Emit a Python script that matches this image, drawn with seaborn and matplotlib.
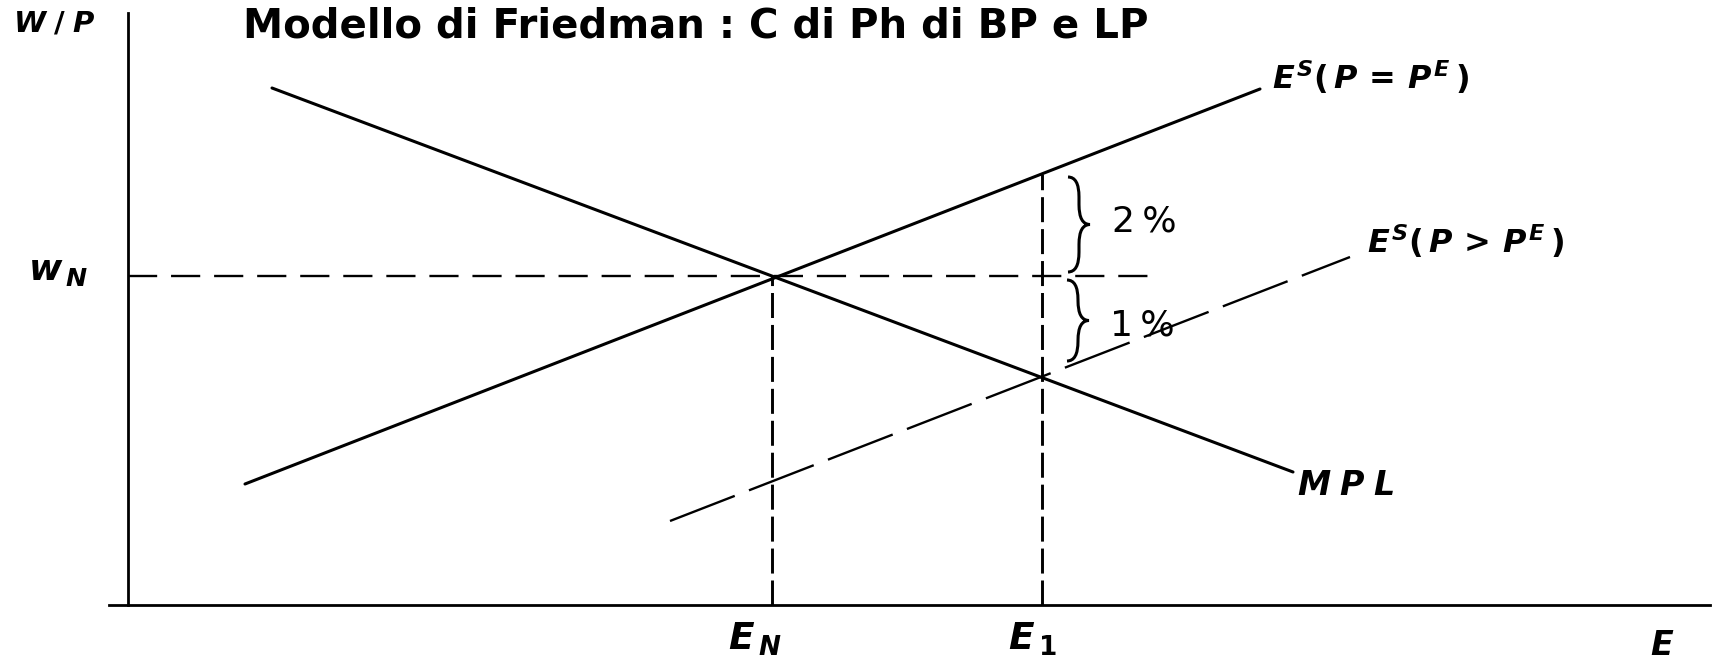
import numpy as np
import pandas as pd
import seaborn as sns
import matplotlib.pyplot as plt
from matplotlib.path import Path
from matplotlib.patches import PathPatch

# diagram values (units ~ pixels from the axes origin)
mpl_x = [144, 1165]
mpl_y = [517, 133]
es_x = [117, 1132]
es_y = [121, 516]
es2_x = [542, 1222]
es2_y = [84, 348]

e_n = 644      # natural employment
w_n = 329      # natural real wage
e_1 = 914      # employment after surprise
e1_y = 228     # MPL at E1
es_top = 431   # ES(P=PE) at E1
wage_end = 1020

title = "Modello di Friedman : C di Ph di BP e LP"


def brace(ax, x, ylo, yhi, w, lw=2.2):
    ym = (ylo + yhi) / 2
    h = w * 0.9
    verts = [(x, yhi), (x + w / 2, yhi), (x + w / 2, yhi - h),
             (x + w / 2, ym + h),
             (x + w / 2, ym), (x + w, ym),
             (x + w / 2, ym), (x + w / 2, ym - h),
             (x + w / 2, ylo + h),
             (x + w / 2, ylo), (x, ylo)]
    codes = [Path.MOVETO, Path.CURVE3, Path.CURVE3,
             Path.LINETO,
             Path.CURVE3, Path.CURVE3,
             Path.CURVE3, Path.CURVE3,
             Path.LINETO,
             Path.CURVE3, Path.CURVE3]
    ax.add_patch(PathPatch(Path(verts, codes), fill=False, lw=lw, color="black"))


sns.set_style("white")
plt.rcParams['lines.scale_dashes'] = False
plt.rcParams['text.color'] = 'black'
plt.rcParams['mathtext.fontset'] = 'custom'
plt.rcParams['mathtext.it'] = 'DejaVu Sans:italic:bold'
plt.rcParams['mathtext.rm'] = 'DejaVu Sans:bold'
plt.rcParams['mathtext.bf'] = 'DejaVu Sans:bold'

fig = plt.figure(figsize=(17.16, 6.59), dpi=100)
ax = fig.add_axes([109 / 1716, 54 / 659, 1601 / 1716, 592 / 659])
ax.set_xlim(-19, 1582)
ax.set_ylim(0, 592)

lw = 2.2
sns.lineplot(x=mpl_x, y=mpl_y, color="black", lw=lw, ax=ax)
sns.lineplot(x=es_x, y=es_y, color="black", lw=lw, ax=ax)
sns.lineplot(x=es2_x, y=es2_y, color="black", lw=1.7, ax=ax)
ax.lines[-1].set_dashes((50, 11))

ax.plot([0, wage_end], [w_n, w_n], color="black", lw=1.7, dashes=(21, 10))
ax.plot([e_n, e_n], [0, w_n], color="black", lw=2.1, dashes=(18, 5))
ax.plot([e_1, e_1], [0, es_top], color="black", lw=2.1, dashes=(18, 5))

brace(ax, e_1 + 26, w_n + 4, es_top - 3, 22)
brace(ax, e_1 + 25, e1_y + 16, w_n - 4, 22)

# labels
ax.text(1144, 516, r"$E^S(\,P\,=\,P^E\,)$", fontsize=23, va="baseline")
ax.text(1239, 352, r"$E^S(\,P\,>\,P^E\,)$", fontsize=23, va="baseline")
ax.text(984, 373, "2\u2009%", fontsize=26, va="baseline")
ax.text(982, 270, "1\u2009%", fontsize=26, va="baseline")
ax.text(1169, 110, r"$M\;P\;L$", fontsize=24, va="baseline")
ax.text(e_n - 44, -45, r"$E_{\,N}$", fontsize=27, va="baseline")
ax.text(e_1 - 34, -45, r"$E_{\,1}$", fontsize=27, va="baseline")
ax.text(1522, -24, r"$E$", fontsize=24, va="top")
ax.text(-100, w_n - 4, r"$w_{\,N}$", fontsize=26, va="baseline")
ax.text(-115, 573, r"$W\;/\;P$", fontsize=21, va="baseline")

fig.text(243 / 1716, 1 - 37 / 659, title, fontsize=29, fontweight="bold",
         family="DejaVu Sans", va="baseline", ha="left")

sns.despine(ax=ax)
ax.spines["left"].set_position(("data", 0))
for s in ["left", "bottom"]:
    ax.spines[s].set_linewidth(2.0)
    ax.spines[s].set_color("black")
ax.set_xticks([])
ax.set_yticks([])

plt.savefig("out.png", dpi=100)
